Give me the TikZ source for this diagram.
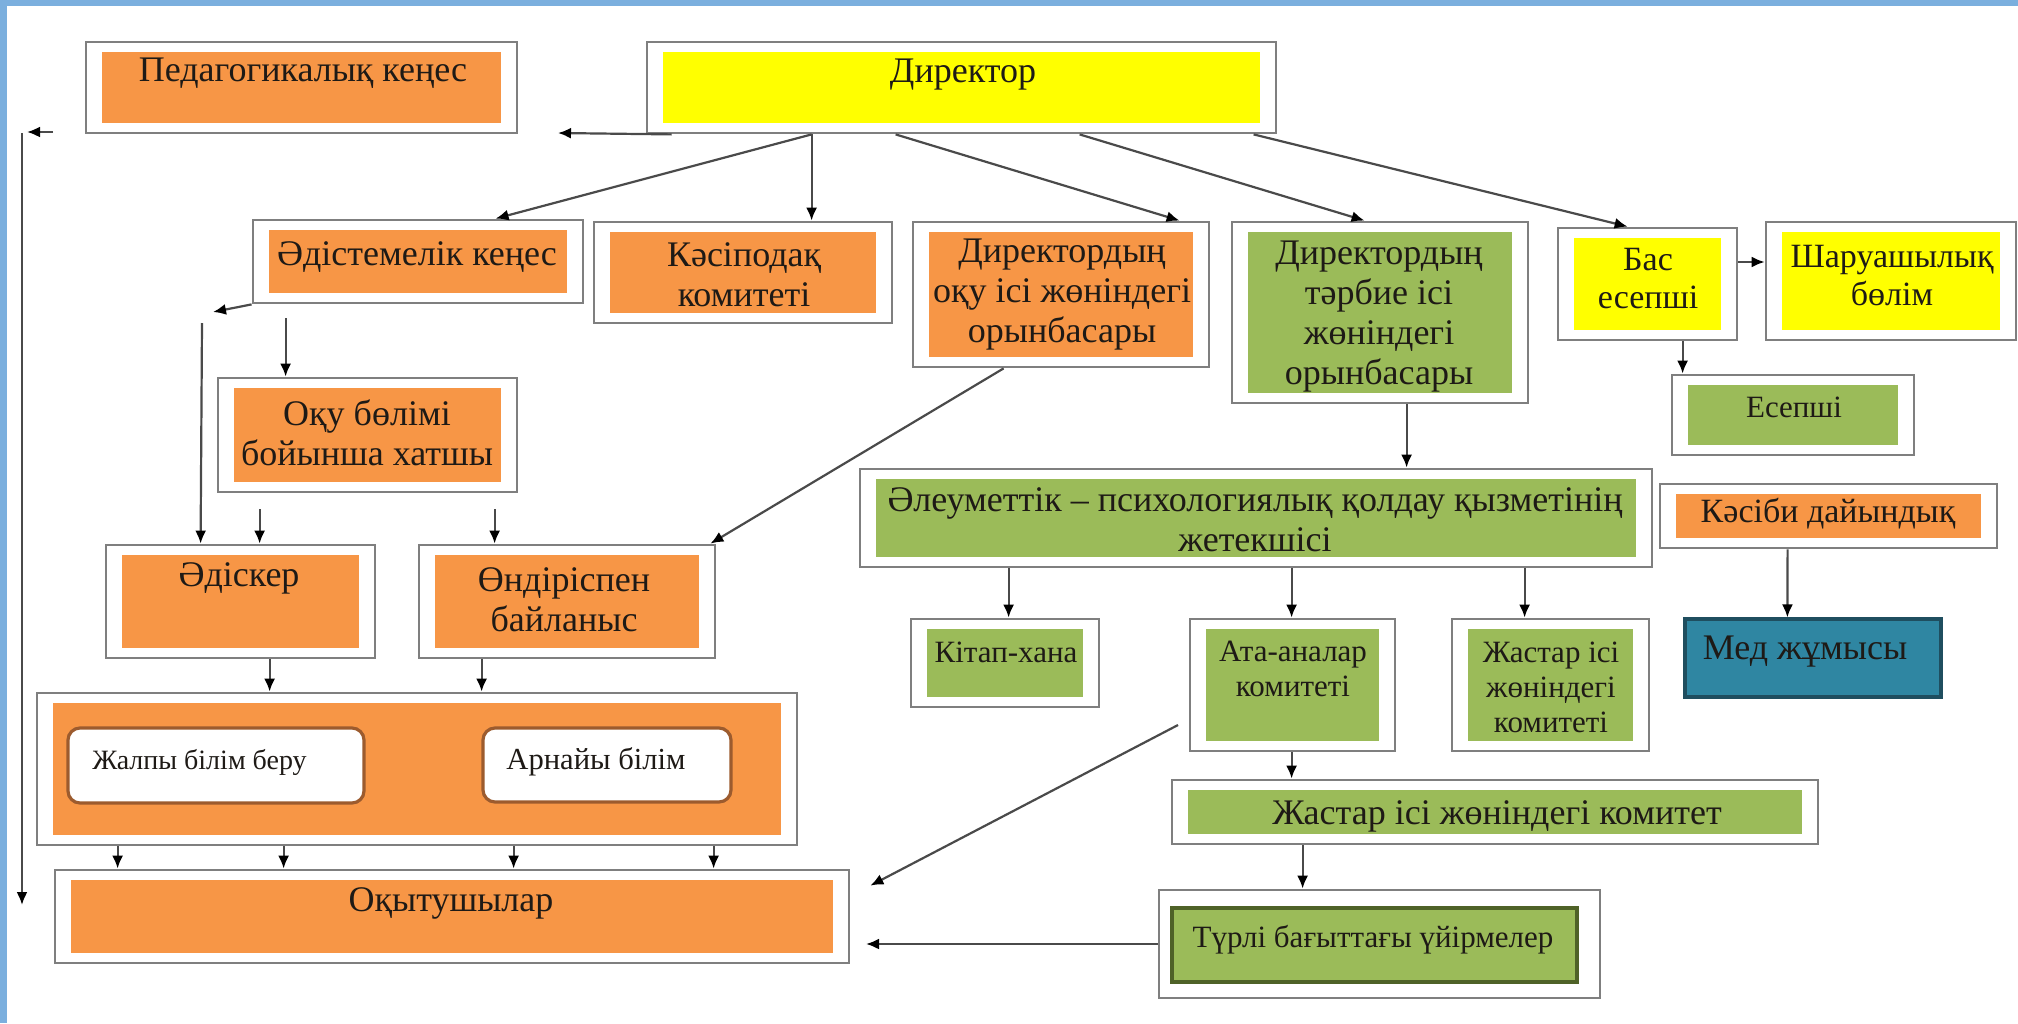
\documentclass[tikz,border=0pt]{standalone}
\usepackage{fontspec}
\setmainfont{Liberation Serif}
\usetikzlibrary{arrows.meta,fit}
\definecolor{org}{HTML}{F79646}
\definecolor{yel}{HTML}{FFFF00}
\definecolor{grn}{HTML}{9BBB59}
\definecolor{tealbox}{HTML}{2F86A2}
\definecolor{tealline}{HTML}{1F4E5F}
\definecolor{frameblue}{HTML}{7BAFDE}
\definecolor{boxline}{HTML}{7F7F7F}
\definecolor{lineclr}{HTML}{4A4A4A}
\definecolor{txtclr}{HTML}{1E1A16}
\definecolor{roundline}{HTML}{9C5B2E}
\definecolor{darkgrn}{HTML}{4F6228}
\newcommand\obox[6]{%
  \node[outerbox, fit={(#2,#3) (#4,#5)}] (#1) {};
  \fill[#6] ({#2+16},{#3+10}) rectangle ({#4-16},{#5-10});}
\begin{document}
\begin{tikzpicture}[x=0.5pt,y=-0.5pt,
  outerbox/.style={draw=boxline, line width=1.4pt, fill=white, inner sep=0pt},
  txt/.style={font=\fontsize{18}{20}\selectfont, align=center, text=txtclr, inner sep=0pt},
  stxt/.style={txt, font=\fontsize{15.5}{17.5}\selectfont},
  rbox/.style={draw=roundline, line width=1.6pt, fill=white, rounded corners=6pt, inner sep=0pt},
  arr/.style={draw=lineclr, line width=1.1pt, -{Latex[length=6.5pt,width=5.5pt,color=black]}}]
\useasboundingbox (0,0) rectangle (2018,1023);
\fill[white] (0,0) rectangle (2018,1023);
% frame
\fill[frameblue] (0,0) rectangle (2018,6);
\fill[frameblue] (0,0) rectangle (7,1023);

% boxes
\obox{ped}{86}{42}{517}{133}{org}
\obox{dir}{647}{42}{1276}{133}{yel}
\obox{adk}{253}{220}{583}{303}{org}
\obox{kas}{594}{222}{892}{323}{org}
\obox{oku}{913}{222}{1209}{367}{org}
\obox{tar}{1232}{222}{1528}{403}{grn}
\obox{bas}{1558}{228}{1737}{340}{yel}
\obox{shar}{1766}{222}{2016}{340}{yel}
\obox{esep}{1672}{375}{1914}{455}{grn}
\obox{hat}{218}{378}{517}{492}{org}
\obox{adsk}{106}{545}{375}{658}{org}
\obox{ond}{419}{545}{715}{658}{org}
\obox{big}{37}{693}{797}{845}{org}
\obox{okyt}{55}{870}{849}{963}{org}
\obox{ale}{860}{469}{1652}{567}{grn}
\obox{kasibi}{1660}{484}{1997}{548}{org}
\obox{kit}{911}{619}{1099}{707}{grn}
\obox{ata}{1190}{619}{1395}{751}{grn}
\obox{zhast}{1452}{619}{1649}{751}{grn}
\obox{zhk}{1172}{780}{1818}{844}{grn}
\obox{turli}{1159}{890}{1600}{998}{white}
\filldraw[fill=grn, draw=darkgrn, line width=1.6pt] (1172,908) rectangle (1577,982);
\node[fit={(1685,619) (1941,697)}, inner sep=0pt, fill=tealbox, draw=tealline, line width=1.6pt] (med) {};
\node[rbox, fit={(68,728) (364,803)}] (zhal) {};
\node[rbox, fit={(483,728) (731,802)}] (arn) {};

% texts
\node[txt] (t-ped) at (303,73) {Педагогикалық кеңес};
\node[txt] (t-dir) at (963,75) {Директор};
\node[txt] (t-adk) at (417,257) {Әдістемелік кеңес};
\node[txt] (t-kas) at (744,275) {Кәсіподақ\\комитеті};
\node[txt] (t-oku) at (1062,295) {Директордың\\оқу ісі жөніндегі\\орынбасары};
\node[txt] (t-tar) at (1379,317) {Директордың\\тәрбие ісі\\жөніндегі\\орынбасары};
\node[txt, font=\fontsize{17}{19}\selectfont] (t-bas) at (1648,279) {Бас\\есепші};
\node[txt, font=\fontsize{17}{19}\selectfont] (t-shar) at (1892,276) {Шаруашылық\\бөлім};
\node[stxt] (t-esep) at (1794,407) {Есепші};
\node[txt] (t-hat) at (367,433) {Оқу бөлімі\\бойынша хатшы};
\node[txt] (t-adsk) at (239,578) {Әдіскер};
\node[txt] (t-ond) at (564,600) {Өндіріспен\\байланыс};
\node[txt, anchor=west, font=\fontsize{14}{16}\selectfont] (t-zhal) at (92,762) {Жалпы білім беру};
\node[txt, font=\fontsize{15.3}{17}\selectfont] (t-arn) at (596,762) {Арнайы білім};
\node[txt] (t-okyt) at (451,903) {Оқытушылар};
\node[txt] (t-ale) at (1255,520) {Әлеуметтік – психологиялық қолдау қызметінің\\жетекшісі};
\node[txt, font=\fontsize{17}{19}\selectfont] (t-kasibi) at (1828,514) {Кәсіби дайындық};
\node[stxt] (t-kit) at (1006,652) {Кітап-хана};
\node[stxt] (t-ata) at (1293,669) {Ата-аналар\\комитеті};
\node[stxt] (t-zhast) at (1551,687) {Жастар ісі\\жөніндегі\\комитеті};
\node[txt] (t-med) at (1805,652) {Мед жұмысы};
\node[txt] (t-zhk) at (1497,816) {Жастар ісі жөніндегі комитет};
\node[txt, font=\fontsize{15.5}{17}\selectfont] (t-turli) at (1373,940) {Түрлі бағыттағы үйірмелер};

% free ends
\coordinate (cL) at (558,133);
\coordinate (lA) at (53,132);
\coordinate (lB) at (27,132);
\coordinate (lC) at (22,133);
\coordinate (lD) at (22,905);
\coordinate (eA) at (213,312);
\coordinate (eB) at (202,323);
\coordinate (tO) at (866,944);
\coordinate (aS) at (1178,725);

% connectors
\draw[arr] ([xshift=13pt]dir.south west) -- (cL);
\draw[arr] (lA) -- (lB);
\draw[arr] (lC) -- (lD);
\draw[arr] ([xshift=83pt]dir.south west) -- ([xshift=122pt]adk.north west);
\draw[arr] ([xshift=83pt]dir.south west) -- ([xshift=109.5pt]kas.north west);
\draw[arr] ([xshift=125pt]dir.south west) -- ([xshift=134pt]oku.north west);
\draw[arr] ([xshift=217pt]dir.south west) -- ([xshift=67pt]tar.north west);
\draw[arr] ([xshift=304pt]dir.south west) -- ([xshift=35.5pt]bas.north west);
\draw[arr] ([yshift=11pt]bas.east) -- ([yshift=9.5pt]shar.west);
\draw[arr] ([xshift=63pt]bas.south west) -- ([xshift=6pt]esep.north west);
\draw[arr] (adk.south west) -- (eA);
\draw[arr] (eB) -- ([xshift=48pt]adsk.north west);
\draw[arr] ([xshift=17pt,yshift=-7pt]adk.south west) -- ([xshift=34.5pt]hat.north west);
\draw[arr] ([xshift=21.5pt,yshift=-8pt]hat.south west) -- ([xshift=77.5pt]adsk.north west);
\draw[arr] ([xshift=139pt,yshift=-8pt]hat.south west) -- ([xshift=38.5pt]ond.north west);
\draw[arr] ([xshift=46pt]oku.south west) -- ([xshift=-3pt]ond.north east);
\draw[arr] ([xshift=82.5pt]adsk.south west) -- ([xshift=117pt]big.north west);
\draw[arr] ([xshift=32pt]ond.south west) -- ([xshift=223pt]big.north west);
\foreach \a/\b in {41/32,124/115,239/230,339/330}
  \draw[arr] ([xshift=\a pt]big.south west) -- ([xshift=\b pt]okyt.north west);
\draw[arr] ([xshift=88pt]tar.south west) -- ([xshift=274pt]ale.north west);
\draw[arr] ([xshift=75pt]ale.south west) -- ([xshift=49.5pt]kit.north west);
\draw[arr] ([xshift=216.5pt]ale.south west) -- ([xshift=51.5pt]ata.north west);
\draw[arr] ([xshift=333pt]ale.south west) -- ([xshift=37pt]zhast.north west);
\draw[arr] ([xshift=64.5pt]kasibi.south west) -- ([xshift=52pt]med.north west);
\draw[arr] ([xshift=51.5pt]ata.south west) -- ([xshift=60.5pt]zhk.north west);
\draw[arr] ([xshift=66pt]zhk.south west) -- ([xshift=72.5pt]turli.north west);
\draw[arr] (turli.west) -- (tO);
\draw[arr] (aS) -- ([xshift=10pt,yshift=-8.5pt]okyt.north east);
\end{tikzpicture}
\end{document}
